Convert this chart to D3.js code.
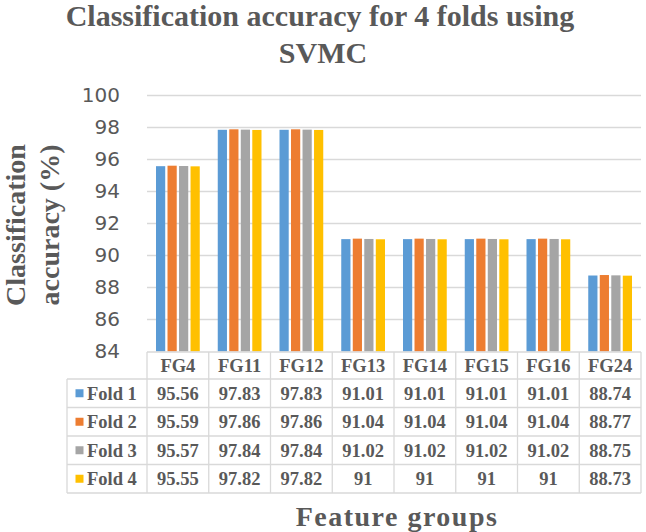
<!DOCTYPE html>
<html>
<head>
<meta charset="utf-8">
<script src="https://cdn.jsdelivr.net/npm/d3@7/dist/d3.min.js"></script>
<style>
  html, body { margin: 0; padding: 0; background: #fff; }
  svg { display: block; }
</style>
</head>
<body>
<svg id="chart" width="646" height="532"></svg>
<script>
const categories = ["FG4", "FG11", "FG12", "FG13", "FG14", "FG15", "FG16", "FG24"];
const seriesNames = ["Fold 1", "Fold 2", "Fold 3", "Fold 4"];
const fold1 = [95.56, 97.83, 97.83, 91.01, 91.01, 91.01, 91.01, 88.74];
const fold2 = [95.59, 97.86, 97.86, 91.04, 91.04, 91.04, 91.04, 88.77];
const fold3 = [95.57, 97.84, 97.84, 91.02, 91.02, 91.02, 91.02, 88.75];
const fold4 = [95.55, 97.82, 97.82, 91, 91, 91, 91, 88.73];
const tableLabels = [
  ["95.56", "97.83", "97.83", "91.01", "91.01", "91.01", "91.01", "88.74"],
  ["95.59", "97.86", "97.86", "91.04", "91.04", "91.04", "91.04", "88.77"],
  ["95.57", "97.84", "97.84", "91.02", "91.02", "91.02", "91.02", "88.75"],
  ["95.55", "97.82", "97.82", "91", "91", "91", "91", "88.73"]
];
const yTicks = [84, 86, 88, 90, 92, 94, 96, 98, 100];
const colors = ["#5B9BD5", "#ED7D31", "#A5A5A5", "#FFC000"];
const seriesValues = [fold1, fold2, fold3, fold4];

const svg = d3.select("#chart");
const textColor = "#595959";
const gridColor = "#d9d9d9";
const serif = "'Liberation Serif', 'Times New Roman', serif";

const plotLeft = 147, plotRight = 641, plotTop = 95, plotBottom = 351.5;
const x = d3.scaleBand().domain(categories).range([plotLeft, plotRight]).padding(0);
const bw = x.bandwidth();
const xInner = d3.scaleBand().domain(seriesNames).range([9, bw - 9]).paddingInner(0.2).paddingOuter(0);
const y = d3.scaleLinear().domain([84, 100]).range([plotBottom, plotTop]);

// gridlines
svg.append("g").selectAll("line").data(yTicks.filter(t => t > 84)).join("line")
  .attr("x1", plotLeft).attr("x2", plotRight)
  .attr("y1", d => Math.round(y(d)) + 0.5).attr("y2", d => Math.round(y(d)) + 0.5)
  .attr("stroke", gridColor).attr("stroke-width", 1.3);

// y tick labels via axis
const yAxis = d3.axisLeft(y).tickValues(yTicks).tickSize(0).tickPadding(0).tickFormat(d3.format("d"));
const yg = svg.append("g").attr("transform", "translate(120,0)").call(yAxis);
yg.select(".domain").remove();
yg.selectAll("text").attr("fill", textColor)
  .style("font-family", "'DejaVu Sans', sans-serif").style("font-size", "20px");

// bars
const groups = svg.append("g").selectAll("g").data(categories).join("g")
  .attr("transform", d => `translate(${x(d)},0)`);
groups.selectAll("rect").data((d, i) => seriesNames.map((s, k) => ({ s, k, v: seriesValues[k][i] })))
  .join("rect")
  .attr("x", d => xInner(d.s))
  .attr("width", xInner.bandwidth())
  .attr("y", d => y(d.v))
  .attr("height", d => y(84) - y(d.v))
  .attr("fill", d => colors[d.k]);

// data table
const tableTop = 352, headerH = 27, rowH = 28.5, labelLeft = 67;
const rowY = i => tableTop + headerH + i * rowH;
const tableBottom = rowY(seriesNames.length);
const tg = svg.append("g");
tg.append("line").attr("x1", plotLeft).attr("x2", plotRight).attr("y1", tableTop).attr("y2", tableTop)
  .attr("stroke", gridColor).attr("stroke-width", 1.3);
for (let i = 0; i <= seriesNames.length; i++) {
  tg.append("line").attr("x1", labelLeft).attr("x2", plotRight).attr("y1", rowY(i)).attr("y2", rowY(i))
    .attr("stroke", gridColor).attr("stroke-width", 1.3);
}
tg.append("line").attr("x1", labelLeft).attr("x2", labelLeft).attr("y1", rowY(0)).attr("y2", tableBottom)
  .attr("stroke", gridColor).attr("stroke-width", 1.3);
categories.concat([null]).forEach((c) => {
  const xx = c === null ? plotRight : x(c);
  tg.append("line").attr("x1", xx).attr("x2", xx).attr("y1", tableTop).attr("y2", tableBottom)
    .attr("stroke", gridColor).attr("stroke-width", 1.3);
});
tg.selectAll("text.hdr").data(categories).join("text").attr("class", "hdr")
  .attr("x", d => x(d) + bw / 2).attr("y", tableTop + headerH / 2 + 6.5)
  .attr("text-anchor", "middle").attr("fill", textColor)
  .style("font-family", serif).style("font-weight", "bold").style("font-size", "18.5px")
  .text(d => d);
seriesNames.forEach((s, i) => {
  const cy = rowY(i) + rowH / 2;
  tg.append("rect").attr("x", 75.5).attr("y", cy - 4).attr("width", 8).attr("height", 8).attr("fill", colors[i]);
  tg.append("text").attr("x", 87).attr("y", cy + 6.5).attr("fill", textColor)
    .style("font-family", serif).style("font-weight", "bold").style("font-size", "18.5px").text(s);
  tg.selectAll(null).data(categories).join("text")
    .attr("x", d => x(d) + bw / 2).attr("y", cy + 6.5)
    .attr("text-anchor", "middle").attr("fill", textColor)
    .style("font-family", serif).style("font-weight", "bold").style("font-size", "18.5px")
    .text((d, j) => tableLabels[i][j]);
});

// title
const title = svg.append("text").attr("text-anchor", "middle").attr("fill", textColor)
  .style("font-family", serif).style("font-weight", "bold").style("font-size", "30px");
title.append("tspan").attr("x", 320).attr("y", 26).text("Classification accuracy for 4 folds using");
title.append("tspan").attr("x", 323).attr("y", 63).text("SVMC");

// y axis title
const yt = svg.append("text").attr("transform", "translate(0,225) rotate(-90)")
  .attr("text-anchor", "middle").attr("fill", textColor)
  .style("font-family", serif).style("font-weight", "bold").style("font-size", "28px");
yt.append("tspan").attr("x", 0).attr("y", 25).text("Classification");
yt.append("tspan").attr("x", 0).attr("y", 59).text("accuracy (%)");

// x axis title
svg.append("text").attr("x", 397).attr("y", 526).attr("text-anchor", "middle").attr("fill", textColor)
  .style("font-family", serif).style("font-weight", "bold").style("font-size", "28px")
  .style("letter-spacing", "1.5px").text("Feature groups");
</script>
</body>
</html>
